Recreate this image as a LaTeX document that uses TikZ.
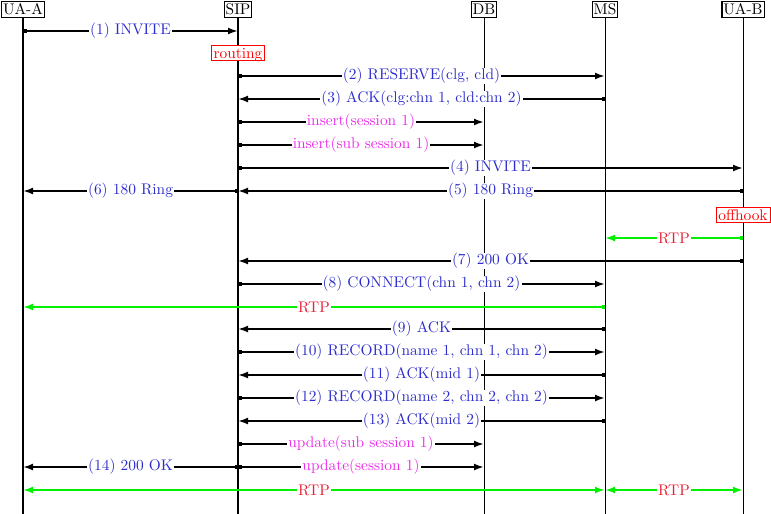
\documentclass[tikz,border=0pt]{standalone}
\usetikzlibrary{arrows.meta}
\definecolor{msgblue}{RGB}{45,45,205}
\definecolor{dbmag}{RGB}{235,45,235}
\definecolor{rtpred}{RGB}{228,35,55}
\definecolor{rtpgreen}{RGB}{0,240,0}
\begin{document}
\begin{tikzpicture}[x=1pt,y=-1pt,
  every node/.style={font=\fontsize{10}{12}\selectfont,scale=1.54,transform shape},
  actor/.style={draw,line width=1.2pt,fill=white,inner xsep=1pt,inner ysep=1.6pt,text height=7pt,text depth=0pt},
  note/.style={draw=red,line width=0.8pt,text=red,fill=white,inner xsep=1.6pt,inner ysep=1.6pt,text height=7pt,text depth=0pt},
  thickline/.style={line width=2pt},
  thinline/.style={line width=1pt},
  msg/.style={line width=2.4pt,{Square[length=3.5pt,width=3.5pt]}-{Latex[length=10pt,width=7pt]}},
  rtp/.style={msg,draw=rtpgreen},
  rtpboth/.style={line width=2.4pt,draw=rtpgreen,{Latex[length=10pt,width=7pt]}-{Latex[length=10pt,width=7pt]}},
  lbl/.style={fill=white,inner xsep=0.7pt,inner ysep=0.3pt,text=msgblue},
  dblbl/.style={lbl,text=dbmag},
  rtplbl/.style={lbl,text=rtpred}]
\useasboundingbox (0,0) rectangle (771,514);
% actors
\node[actor] (uaa) at (23,9.5) {UA-A};
\node[actor] (sip) at (238,9.5) {SIP};
\node[actor] (db) at (484,9.5) {DB};
\node[actor] (ms) at (605,9.5) {MS};
\node[actor] (uab) at (743,9.5) {UA-B};
\coordinate (bot) at (0,514);
\draw[thickline] (uaa.south) -- (uaa |- bot);
\draw[thickline] (sip.south) -- (sip |- bot);
\draw[thinline] (db.south) -- (db |- bot);
\draw[thinline] (ms.south) -- (ms |- bot);
\draw[thinline] (uab.south) -- (uab |- bot);
% rows
\foreach \n/\y in {1/31,2/76,3/99,4/122,5/145,6/168,7/191,8/238,9/261,10/284,11/307,12/329,13/352,14/375,15/398,16/421,17/444,18/467,19/490}
  \coordinate (r\n) at (0,\y);
\draw[msg] (uaa |- r1) -- node[lbl]{(1) INVITE} (sip |- r1);
\node[note] (routing) at (238,53) {routing};
\draw[msg] (sip |- r2) -- node[lbl]{(2) RESERVE(clg, cld)} (ms |- r2);
\draw[msg] (ms |- r3) -- node[lbl]{(3) ACK(clg:chn 1, cld:chn 2)} (sip |- r3);
\draw[msg] (sip |- r4) -- node[dblbl]{insert(session 1)} (db |- r4);
\draw[msg] (sip |- r5) -- node[dblbl]{insert(sub session 1)} (db |- r5);
\draw[msg] (sip |- r6) -- node[lbl]{(4) INVITE} (uab |- r6);
\draw[msg] (uab |- r7) -- node[lbl]{(5) 180 Ring} (sip |- r7);
\draw[msg] (sip |- r7) -- node[lbl]{(6) 180 Ring} (uaa |- r7);
\node[note] (offhook) at (743,215) {offhook};
\draw[rtp] (uab |- r8) -- node[rtplbl]{RTP} (ms |- r8);
\draw[msg] (uab |- r9) -- node[lbl]{(7) 200 OK} (sip |- r9);
\draw[msg] (sip |- r10) -- node[lbl]{(8) CONNECT(chn 1, chn 2)} (ms |- r10);
\draw[rtp] (ms |- r11) -- node[rtplbl]{RTP} (uaa |- r11);
\draw[msg] (ms |- r12) -- node[lbl]{(9) ACK} (sip |- r12);
\draw[msg] (sip |- r13) -- node[lbl]{(10) RECORD(name 1, chn 1, chn 2)} (ms |- r13);
\draw[msg] (ms |- r14) -- node[lbl]{(11) ACK(mid 1)} (sip |- r14);
\draw[msg] (sip |- r15) -- node[lbl]{(12) RECORD(name 2, chn 2, chn 2)} (ms |- r15);
\draw[msg] (ms |- r16) -- node[lbl]{(13) ACK(mid 2)} (sip |- r16);
\draw[msg] (sip |- r17) -- node[dblbl]{update(sub session 1)} (db |- r17);
\draw[msg] (sip |- r18) -- node[dblbl]{update(session 1)} (db |- r18);
\draw[msg] (sip |- r18) -- node[lbl]{(14) 200 OK} (uaa |- r18);
\draw[rtpboth] (uaa |- r19) -- node[rtplbl]{RTP} (ms |- r19);
\draw[rtpboth] (ms |- r19) -- node[rtplbl]{RTP} (uab |- r19);
\end{tikzpicture}
\end{document}
